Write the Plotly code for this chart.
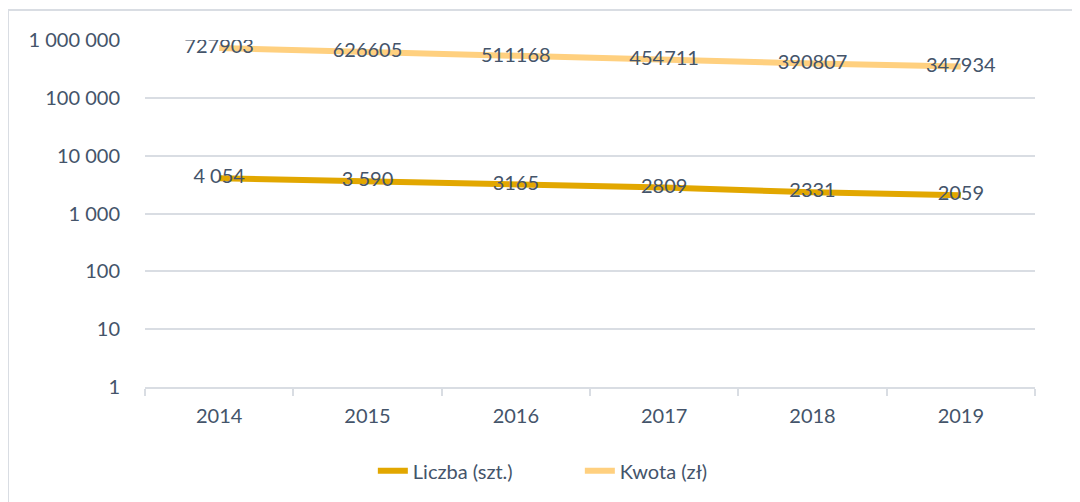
import plotly.graph_objects as go

years = ["2014", "2015", "2016", "2017", "2018", "2019"]
liczba = [4054, 3590, 3165, 2809, 2331, 2059]
liczba_labels = ["4 054", "3 590", "3165", "2809", "2331", "2059"]
kwota = [727903, 626605, 511168, 454711, 390807, 347934]
kwota_labels = ["727903", "626605", "511168", "454711", "390807", "347934"]
y_tickvals = [1, 10, 100, 1000, 10000, 100000, 1000000]
y_ticktext = ["1", "10", "100", "1 000", "10 000", "100 000", "1 000 000"]

TEXT = "#44546A"
GRID = "#D9DDE3"
FONT = "Lato"

fig = go.Figure()
fig.add_trace(go.Scatter(
    x=years, y=liczba, mode="lines+text", name="Liczba (szt.)",
    line=dict(color="#E2A700", width=6),
    text=liczba_labels, textposition="middle center",
    textfont=dict(color=TEXT, size=20, family=FONT),
))
fig.add_trace(go.Scatter(
    x=years, y=kwota, mode="lines+text", name="Kwota (zł)",
    line=dict(color="#FFD07F", width=6),
    text=kwota_labels, textposition="middle center",
    textfont=dict(color=TEXT, size=20, family=FONT),
))

fig.update_layout(
    width=1080, height=502,
    margin=dict(l=137, r=53, t=32, b=123, autoexpand=False),
    paper_bgcolor="white", plot_bgcolor="white",
    font=dict(family=FONT, size=20, color=TEXT),
    showlegend=True,
    legend=dict(orientation="h", x=0.256, xanchor="left", y=-0.185, yanchor="top",
                entrywidth=162, entrywidthmode="pixels",
                font=dict(size=20, color=TEXT, family=FONT), traceorder="normal"),
    xaxis=dict(type="category", showgrid=False, showline=True, linecolor=GRID, linewidth=2,
               ticks="outside", tickson="boundaries", ticklen=7, tickcolor=GRID, tickwidth=2,
               ticklabelstandoff=10,
               tickfont=dict(size=20, color=TEXT, family=FONT), range=[-0.5, 5.5]),
    yaxis=dict(type="log", range=[0, 6], tickvals=y_tickvals, ticktext=y_ticktext,
               showgrid=True, gridcolor=GRID, gridwidth=2, zeroline=False, showline=False,
               ticks="", ticklabelstandoff=24,
               tickfont=dict(size=20, color=TEXT, family=FONT)),
    shapes=[dict(type="rect", xref="paper", yref="paper",
                 x0=(0 - 137) / 890, x1=1.2, y0=-0.5, y1=(379 - 2) / 347,
                 line=dict(color="#D9DDE3", width=2), fillcolor="rgba(0,0,0,0)", layer="below")],
)

fig.write_html("out.html")
